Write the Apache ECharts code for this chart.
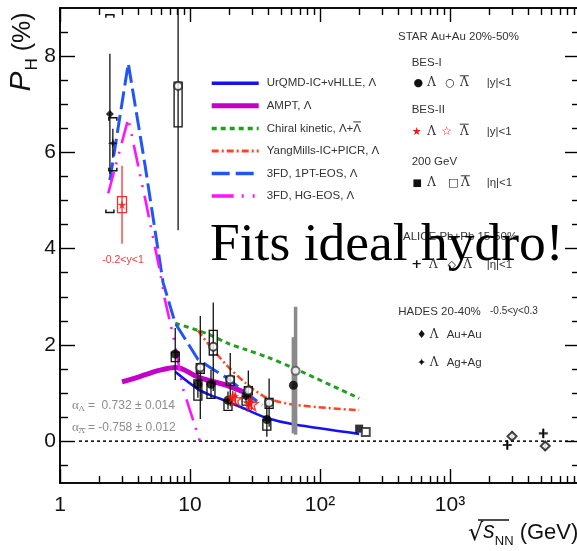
<!DOCTYPE html>
<html>
<head>
<meta charset="utf-8">
<script src="https://cdn.jsdelivr.net/npm/echarts@6/dist/echarts.min.js"></script>
<style>
  html, body { margin: 0; padding: 0; background: #fff; }
  #c { width: 577px; height: 551px; }
</style>
</head>
<body>
<div id="c"></div>
<script>
// ---- axis ranges and ticks ----
const xMin = 1, xMax = 10000, yMin = -0.87, yMax = 9;
const xMajor = [1, 10, 100, 1000];
const xMinor = [2, 3, 4, 5, 6, 7, 8, 9, 20, 30, 40, 50, 60, 70, 80, 90,
  200, 300, 400, 500, 600, 700, 800, 900, 2000, 3000, 4000, 5000, 6000, 7000, 8000, 9000];
const xTickText = { 1: '1', 10: '10', 100: '10\u00B2', 1000: '10\u00B3' };
const yMajor = [0, 2, 4, 6, 8];
const yMinor = [-0.5, 0.5, 1, 1.5, 2.5, 3, 3.5, 4.5, 5, 5.5, 6.5, 7, 7.5, 8.5];

// ---- model curves: [sqrt(s_NN) in GeV, P_H in %] ----
const urqmd = [[7.7, 1.44], [11.5, 1.08], [14.5, 0.95], [19.6, 0.82], [27, 0.66], [39, 0.48], [62.4, 0.35], [200, 0.15]];
const ampt = [[3.0, 1.23], [4.0, 1.33], [5.0, 1.42], [6.0, 1.48], [7.7, 1.53], [11.5, 1.33], [14.5, 1.25], [19.6, 1.15], [27, 1.0]];
const chiral = [[7.7, 2.45], [11.5, 2.3], [14.5, 2.2], [19.6, 2.03], [27, 1.9], [39, 1.75], [62.4, 1.52], [200, 0.89]];
const yangMills = [[11.5, 2.3], [14.5, 1.95], [19.6, 1.55], [27, 1.2], [39, 0.9], [62.4, 0.76], [200, 0.64]];
const fd1pt = [[2.42, 5.42], [3.35, 7.85], [4.5, 5.75], [6.2, 3.3], [7.7, 2.45], [11.5, 1.7], [14.5, 1.52], [19.6, 1.3], [27, 1.0], [36, 0.75]];
const fdHG = [[2.35, 5.15], [3.35, 6.7], [4.5, 5.06], [5.9, 3.5], [6.4, 2.95], [7.45, 2.17], [8.9, 1.06], [10, 0.64], [11.9, 0.0]];

// ---- STAR BES-I ----
const besLamE = [7.7, 11.5, 14.5, 19.6, 27, 39];
const besLamP = [1.81, 1.18, 1.18, 0.85, 0.95, 0.45];
const besLamStat = [0.54, 0.28, 0.3, 0.18, 0.15, 0.36];
const besLamSysLo = [1.65, 0.85, 0.89, 0.64, 0.75, 0.23];
const besLamSysHi = [1.85, 1.27, 1.23, 0.85, 0.92, 0.44];
const besBarE = [8.1, 12.0, 15.1, 20.4, 28.1, 40.6];
const besBarP = [7.38, 1.53, 1.96, 1.28, 1.05, 0.8];
const besBarStat = [3.0, 1.07, 0.92, 0.55, 0.42, 0.5];
const besBarSysLo = [6.53, 1.41, 1.79, 1.16, 0.96, 0.68];
const besBarSysHi = [7.46, 1.61, 2.3, 1.35, 1.13, 0.89];

// ---- STAR 62.4 GeV ----
const s62LamE = [62.4], s62LamP = [1.16], s62LamStat = [1.0];
const s62BarE = [64.9], s62BarP = [1.46], s62BarStat = [1.33];

// ---- STAR 200 GeV ----
const s200LamE = [200], s200LamP = [0.26];
const s200BarE = [225], s200BarP = [0.19];

// ---- STAR BES-II ----
const bes2LamE = [21.3, 28.5], bes2LamP = [0.92, 0.8], bes2LamStat = [0.12, 0.12];
const bes2BarE = [22.3, 29.8], bes2BarP = [0.87, 0.77], bes2BarStat = [0.12, 0.12];

// ---- STAR FXT 3 GeV ----
const fxtE = [3.0], fxtP = [4.91], fxtStat = [0.81], fxtSysLo = [4.75], fxtSysHi = [5.08];

// ---- HADES ----
const hadesAuE = [2.42], hadesAuP = [6.8], hadesAuStat = [1.25], hadesAuSysLo = [4.75], hadesAuSysHi = [8.86];
const hadesAgE = [2.55], hadesAgP = [6.19], hadesAgStat = [0.3], hadesAgSysLo = [5.62], hadesAgSysHi = [6.72];

// ---- ALICE ----
const aliceLamE = [2760, 5220], aliceLamP = [-0.08, 0.16], aliceLamStat = [0.1, 0.1];
const aliceBarE = [3000, 5400], aliceBarP = [0.1, -0.1], aliceBarStat = [0.1, 0.1];

const LAMBDA = '\u039B';
const theoryNames = ['UrQMD-IC+vHLLE, \u039B', 'AMPT, \u039B', 'Chiral kinetic, \u039B+\u039B\u0304',
  'YangMills-IC+PICR, \u039B', '3FD, 1PT-EOS, \u039B', '3FD, HG-EOS, \u039B'];
const theoryColors = ['#1212f2', '#c400c8', '#1fa01f', '#ff4422', '#2255f8', '#ff14ff'];
const theoryWidths = [2.6, 5, 3, 2.5, 3, 2.6];
const legendWidths = [3.5, 5, 3.5, 3, 3.5, 3.5];
const theoryDash = ['solid', 'solid', [5, 4], [7, 3, 2, 3], [18, 6], [22, 8, 2, 9, 2, 9]];

// ---- helpers ----
const zip = (...cols) => cols[0].map((_, i) => cols.map(c => (c[i] === undefined ? 0 : c[i])));
const FONT = 'Liberation Sans';
const SERIF = 'DejaVu Serif';
const measureCtx = document.createElement('canvas').getContext('2d');
function textWidth(s, font) { measureCtx.font = font; return measureCtx.measureText(s).width; }

function errRender(color, lw, boxW) {
  return function (params, api) {
    const cs = params.coordSys;
    const clampY = v => Math.max(cs.y, Math.min(cs.y + cs.height, v));
    const x = api.value(0), y = api.value(1), e = api.value(2), lo = api.value(3), hi = api.value(4);
    const p = api.coord([x, y]);
    const kids = [];
    if (e > 0) {
      const t = clampY(api.coord([x, y + e])[1]);
      const b = clampY(api.coord([x, y - e])[1]);
      kids.push({ type: 'line', shape: { x1: p[0], y1: t, x2: p[0], y2: b }, style: { stroke: color, lineWidth: lw } });
    }
    if (hi > lo) {
      const t = api.coord([x, hi])[1], b = api.coord([x, lo])[1];
      kids.push({ type: 'rect', shape: { x: p[0] - boxW / 2, y: t, width: boxW, height: b - t },
        style: { fill: 'none', stroke: color, lineWidth: 1.3 } });
    }
    return { type: 'group', children: kids };
  };
}

function bracketRender(color) {
  return function (params, api) {
    const x = api.value(0), y = api.value(1), e = api.value(2), lo = api.value(3), hi = api.value(4);
    const p = api.coord([x, y]);
    const t = api.coord([x, hi])[1], b = api.coord([x, lo])[1];
    const w = 4, h = 3;
    const st = { stroke: color, lineWidth: 1.5, fill: 'none' };
    const kids = [
      { type: 'polyline', shape: { points: [[p[0] - w, t + h], [p[0] - w, t], [p[0] + w, t], [p[0] + w, t + h]] }, style: st },
      { type: 'polyline', shape: { points: [[p[0] - w, b - h], [p[0] - w, b], [p[0] + w, b], [p[0] + w, b - h]] }, style: st }
    ];
    if (e > 0) {
      kids.push({ type: 'line', shape: { x1: p[0], y1: api.coord([x, y + e])[1], x2: p[0], y2: api.coord([x, y - e])[1] },
        style: { stroke: color, lineWidth: 1.3 } });
    }
    return { type: 'group', children: kids };
  };
}

function errSeries(data, color, lw, boxW, render) {
  return { type: 'custom', xAxisIndex: 0, yAxisIndex: 0, z: 3, silent: true,
    renderItem: (render || errRender)(color, lw, boxW), encode: { x: 0, y: 1 }, data: data };
}

function markSeries(data, symbol, size, itemStyle) {
  return { type: 'scatter', xAxisIndex: 0, yAxisIndex: 0, z: 5, silent: true,
    symbol: symbol, symbolSize: size, itemStyle: itemStyle, data: data };
}

function curve(i, data, smooth) {
  return { name: theoryNames[i], type: 'line', xAxisIndex: 0, yAxisIndex: 0, z: 2, data: data,
    symbol: 'none', showSymbol: false, smooth: smooth, silent: true,
    lineStyle: { color: theoryColors[i], width: theoryWidths[i], type: theoryDash[i], cap: 'butt' },
    itemStyle: { color: theoryColors[i] } };
}

const STAR5 = 'path://M50,0 L61,35 L98,35 L68,57 L79,91 L50,70 L21,91 L32,57 L2,35 L39,35 Z';
const STAR4 = 'path://M50,0 L62,38 L100,50 L62,62 L50,100 L38,62 L0,50 L38,38 Z';
const PLUS = 'path://M38,0 H62 V38 H100 V62 H62 V100 H38 V62 H0 V38 H38 Z';

function xAx(pos, ticks, len, withLabels) {
  return {
    type: 'log', logBase: 10, min: xMin, max: xMax, position: pos, gridIndex: 0,
    axisLine: { show: true, onZero: false, lineStyle: { color: '#000', width: 1.5 } },
    axisTick: { show: true, inside: true, length: len, customValues: ticks, lineStyle: { color: '#000', width: 1.4 } },
    axisLabel: withLabels ? {
      show: true, customValues: xMajor, margin: 12, fontSize: 21, color: '#111', fontFamily: FONT,
      formatter: v => xTickText[Math.round(v)] || ''
    } : { show: false },
    splitLine: { show: false }, minorTick: { show: false }, minorSplitLine: { show: false }
  };
}
function yAx(pos, ticks, len, withLabels) {
  return {
    type: 'value', min: yMin, max: yMax, position: pos, gridIndex: 0,
    axisLine: { show: true, onZero: false, lineStyle: { color: '#000', width: 1.5 } },
    axisTick: { show: true, inside: true, length: len, customValues: ticks, lineStyle: { color: '#000', width: 1.4 } },
    axisLabel: withLabels ? {
      show: true, customValues: yMajor, margin: 4, fontSize: 21, color: '#111', fontFamily: FONT,
      formatter: v => String(Math.round(v))
    } : { show: false },
    splitLine: { show: false }, minorTick: { show: false }, minorSplitLine: { show: false }
  };
}

// ---- text blocks around the plot ----
function txt(x, y, text, extra) {
  return { type: 'text', x: x, y: y, z: 20, silent: true,
    style: Object.assign({ text: text, fontSize: 11.5, fontFamily: FONT, fill: '#333',
      align: 'left', verticalAlign: 'middle' }, extra || {}) };
}
function bar(x1, x2, y, color, w) {
  return { type: 'line', z: 20, silent: true, shape: { x1: x1, y1: y, x2: x2, y2: y },
    style: { stroke: color || '#333', lineWidth: w || 1 } };
}
const LAM = { fontSize: 12, fontFamily: SERIF, align: 'center', fill: '#333' };
// Lambda-bar: a Lambda with an overline drawn over it
function lamBar(x, y) { return [txt(x, y + 1, LAMBDA, LAM), bar(x - 4.5, x + 4.5, y - 6.5)]; }
const GLY = { fontFamily: 'DejaVu Sans', align: 'center', fill: '#111' };
const GRAY = '#8c8c8c';
const alphaRich = {
  a: { fontSize: 13, fontFamily: 'Liberation Serif', fill: GRAY },
  s: { fontSize: 8, fontFamily: SERIF, fill: GRAY, verticalAlign: 'bottom', padding: [6, 0, 0, 0] },
  t: { fontSize: 12, fontFamily: FONT, fill: GRAY }
};
const alphaW = textWidth('\u03B1', '13px "Liberation Serif"');
const subLamW = textWidth(LAMBDA, '8px "DejaVu Serif"');

// model legend: line samples from the legend component, labels as text rows
const legX = 266.7, legY0 = 83.3, legDy = 22.55;
const LEGFONT = '11.5px "Liberation Sans"';
const legendLabels = [];
theoryNames.forEach((n, i) => {
  const y = legY0 + i * legDy;
  const plain = n.replace('\u0304', '');
  legendLabels.push(txt(legX, y, plain, { fontSize: 11.5 }));
  if (n.indexOf('\u0304') >= 0) {
    const k = n.indexOf('\u0304') - 1;
    const x1 = legX + textWidth(plain.slice(0, k), LEGFONT);
    const x2 = x1 + textWidth(plain.charAt(k), LEGFONT);
    legendLabels.push(bar(x1, x2, y - 6.5, '#333', 1));
  }
});

const graphics = [
  // y-axis title
  { type: 'text', x: 24, y: 52, rotation: Math.PI / 2, z: 20, silent: true,
    style: { text: '{p|P}{h|H}{u| (%)}', align: 'center', verticalAlign: 'middle', fill: '#111',
      rich: {
        p: { fontSize: 30, fontStyle: 'italic', fontFamily: FONT, fill: '#111', verticalAlign: 'bottom', padding: [0, 1, 4, 0] },
        h: { fontSize: 17, fontFamily: FONT, fill: '#111', verticalAlign: 'bottom' },
        u: { fontSize: 25, fontFamily: FONT, fill: '#111', verticalAlign: 'bottom', padding: [0, 0, 5, 0] }
      } } },
  // x-axis title
  { type: 'text', x: 468, y: 534, z: 20, silent: true,
    style: { text: '{r|\u221A}{s|s}{n|NN}{u| (GeV)}', align: 'left', verticalAlign: 'middle', fill: '#111',
      rich: {
        r: { fontSize: 24, fontFamily: 'DejaVu Sans', fill: '#111', verticalAlign: 'bottom', padding: [0, 0, 2, 0] },
        s: { fontSize: 23, fontStyle: 'italic', fontFamily: FONT, fill: '#111', verticalAlign: 'bottom', padding: [0, 0, 4, 0] },
        n: { fontSize: 13, fontFamily: FONT, fill: '#111', verticalAlign: 'bottom' },
        u: { fontSize: 22, fontFamily: FONT, fill: '#111', verticalAlign: 'bottom', padding: [0, 0, 4, 0] }
      } } },
  bar(478, 509, 520, '#111', 1.5),

  // decay parameters
  txt(72, 406, '{a|\u03B1}{s|\u039B}{t| =  0.732 \u00B1 0.014}', { fill: GRAY, rich: alphaRich }),
  txt(72, 428, '{a|\u03B1}{s|\u039B}{t| = -0.758 \u00B1 0.012}', { fill: GRAY, rich: alphaRich }),
  bar(72 + alphaW, 72 + alphaW + subLamW + 1, 428.5, GRAY, 0.8),
  txt(123, 260, '-0.2<y<1', { fontSize: 10.5, fill: '#f03c3c', align: 'center' }),

  ...legendLabels,

  // data legend
  txt(398, 36.7, 'STAR Au+Au 20%-50%'),
  txt(411.7, 63.3, 'BES-I'),
  txt(418.3, 83.3, '\u25CF', Object.assign({}, GLY, { fontSize: 11 })),
  txt(431.7, 83.3, LAMBDA, LAM),
  txt(450, 83.3, '\u25CB', Object.assign({}, GLY, { fontSize: 11 })),
  ...lamBar(464.3, 82.3),
  txt(486.7, 83.3, '|y|<1'),
  txt(411.7, 110, 'BES-II'),
  txt(416.7, 131.7, '\u2605', Object.assign({}, GLY, { fontSize: 11, fill: '#f01818' })),
  txt(431.7, 131.7, LAMBDA, LAM),
  txt(446.7, 131.7, '\u2606', Object.assign({}, GLY, { fontSize: 12, fill: '#f01818' })),
  ...lamBar(464.3, 130.7),
  txt(486.7, 131.7, '|y|<1'),
  txt(411.7, 161.7, '200 GeV'),
  txt(417.3, 183.3, '\u25A0', Object.assign({}, GLY, { fontSize: 10 })),
  txt(431.7, 183.3, LAMBDA, LAM),
  txt(453.3, 183.3, '\u25A1', Object.assign({}, GLY, { fontSize: 11 })),
  ...lamBar(465.3, 182.3),
  txt(486.7, 183.3, '|\u03B7|<1'),
  txt(403, 237, 'ALICE Pb+Pb 15-50%'),
  txt(416.7, 265, '+', Object.assign({}, GLY, { fontSize: 13, fontWeight: 'bold' })),
  txt(433.3, 265, LAMBDA, LAM),
  txt(451.7, 265, '\u25C7', Object.assign({}, GLY, { fontSize: 11 })),
  ...lamBar(467.7, 264),
  txt(486.7, 265, '|\u03B7|<1'),
  txt(398.3, 311.7, 'HADES 20-40%'),
  txt(490, 311.7, '-0.5<y<0.3', { fontSize: 10 }),
  txt(421.7, 335, '\u2666', Object.assign({}, GLY, { fontSize: 11 })),
  txt(434, 335, LAMBDA, LAM),
  txt(446.7, 335, 'Au+Au'),
  txt(421.7, 363.3, '\u2726', Object.assign({}, GLY, { fontSize: 11 })),
  txt(434, 363.3, LAMBDA, LAM),
  txt(446.7, 363.3, 'Ag+Ag'),

  // headline
  { type: 'text', x: 210, y: 246, z: 30, silent: true,
    style: { text: 'Fits ideal hydro!', fontSize: 53.5, fontFamily: 'Liberation Serif', fill: '#000',
      align: 'left', verticalAlign: 'middle' } }
];

const option = {
  animation: false,
  backgroundColor: '#fff',
  grid: { left: 60, top: 8, right: -3, bottom: 68, containLabel: false, outerBoundsMode: 'none' },
  xAxis: [xAx('bottom', xMajor, 14, true), xAx('top', xMajor, 14, false),
          xAx('bottom', xMinor, 7, false), xAx('top', xMinor, 7, false)],
  yAxis: [yAx('left', yMajor, 15, true), yAx('right', yMajor, 15, false),
          yAx('left', yMinor, 8, false), yAx('right', yMinor, 8, false)],
  legend: {
    data: theoryNames.map((n, i) => ({ name: n, lineStyle: { width: legendWidths[i] } })),
    orient: 'vertical', left: 204.2, top: legY0 - 7 - 5, padding: 5,
    itemWidth: 47, itemHeight: 14, itemGap: legDy - 14, selectedMode: false,
    itemStyle: { opacity: 0, borderWidth: 0 },
    formatter: () => '',
    textStyle: { fontSize: 11.5, lineHeight: 14, height: 14, color: '#333', fontFamily: FONT }
  },
  graphic: graphics,
  series: [
    { type: 'line', xAxisIndex: 0, yAxisIndex: 0, z: 1, symbol: 'none', silent: true,
      data: [[1.4, 0], [xMax, 0]], lineStyle: { color: '#000', width: 1.5, type: [3, 3] } },

    curve(0, urqmd, 0.3),
    curve(1, ampt, 0.4),
    curve(2, chiral, 0.3),
    curve(3, yangMills, 0.3),
    curve(4, fd1pt, false),
    curve(5, fdHG, false),

    // uncertainties
    errSeries(zip(besLamE, besLamP, besLamStat, besLamSysLo, besLamSysHi), '#111', 1.3, 8),
    errSeries(zip(besBarE, besBarP, besBarStat, besBarSysLo, besBarSysHi), '#111', 1.3, 8),
    errSeries(zip(s62LamE, s62LamP, s62LamStat), '#8a8a8a', 3.5, 0),
    errSeries(zip(s62BarE, s62BarP, s62BarStat), '#8a8a8a', 3.5, 0),
    errSeries(zip(bes2LamE, bes2LamP, bes2LamStat), '#f02020', 1.3, 0),
    errSeries(zip(bes2BarE, bes2BarP, bes2BarStat), '#f02020', 1.3, 0),
    errSeries(zip(fxtE, fxtP, fxtStat, fxtSysLo, fxtSysHi), '#f03030', 1.3, 9),
    errSeries(zip(hadesAuE, hadesAuP, hadesAuStat, hadesAuSysLo, hadesAuSysHi), '#111', 1.3, 0, bracketRender),
    errSeries(zip(hadesAgE, hadesAgP, hadesAgStat, hadesAgSysLo, hadesAgSysHi), '#111', 1.3, 0, bracketRender),
    errSeries(zip(aliceLamE, aliceLamP, aliceLamStat), '#111', 1.3, 0),
    errSeries(zip(aliceBarE, aliceBarP, aliceBarStat), '#111', 1.3, 0),

    // markers
    markSeries(zip(besLamE, besLamP), 'circle', 9, { color: '#000' }),
    markSeries(zip(besBarE, besBarP), 'emptyCircle', 8, { color: '#222', borderWidth: 1.4 }),
    markSeries(zip(s62LamE, s62LamP), 'circle', 9, { color: '#000' }),
    markSeries(zip(s62BarE, s62BarP), 'emptyCircle', 8, { color: '#555', borderWidth: 1.4 }),
    markSeries(zip(s200LamE, s200LamP), 'rect', 8, { color: '#000' }),
    markSeries(zip(s200BarE, s200BarP), 'emptyRect', 8, { color: '#222', borderWidth: 1.4 }),
    markSeries(zip(bes2LamE, bes2LamP), STAR5, 13, { color: '#f01818' }),
    markSeries(zip(bes2BarE, bes2BarP), STAR5, 13, { color: 'rgba(255,255,255,0)', borderColor: '#f01818', borderWidth: 1.4 }),
    markSeries(zip(fxtE, fxtP), STAR5, 9, { color: '#f01818' }),
    markSeries(zip(hadesAuE, hadesAuP), 'diamond', 8, { color: '#000' }),
    markSeries(zip(hadesAgE, hadesAgP), STAR4, 10, { color: '#000' }),
    markSeries(zip(aliceLamE, aliceLamP), PLUS, 9, { color: '#000' }),
    markSeries(zip(aliceBarE, aliceBarP), 'emptyDiamond', 9, { color: '#111', borderWidth: 1.6 })
  ]
};

const chart = echarts.init(document.getElementById('c'), null, { renderer: 'canvas', width: 577, height: 551 });
chart.setOption(option);
</script>
</body>
</html>
